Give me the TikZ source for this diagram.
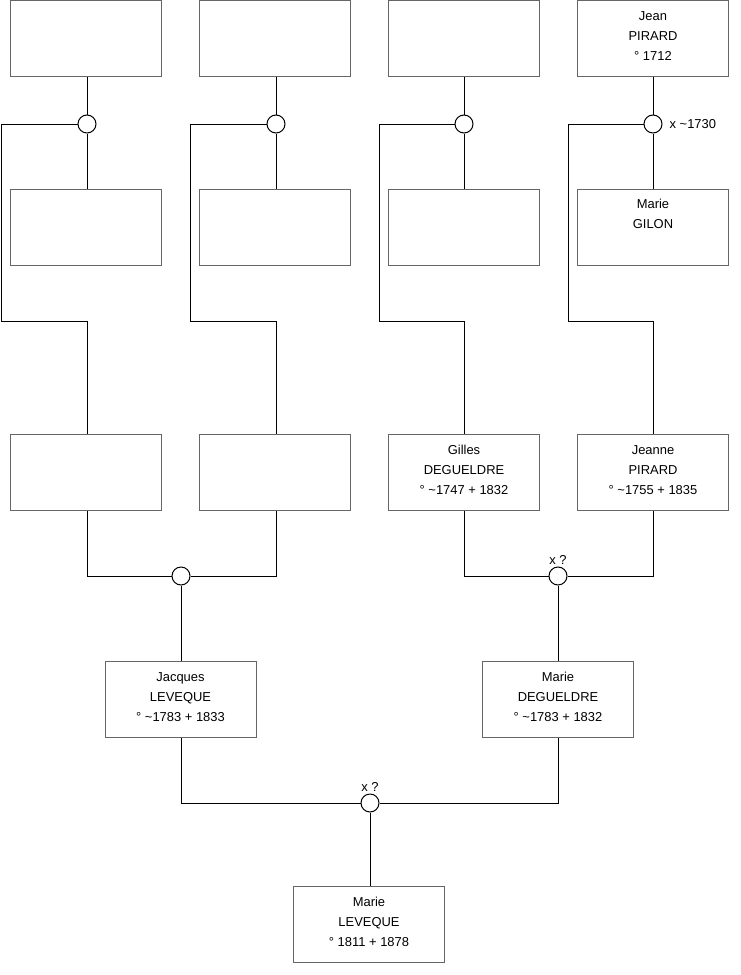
\documentclass[tikz,border=0pt]{standalone}
\usepackage{fontspec}
\setmainfont{Liberation Sans}
\usetikzlibrary{positioning}

\begin{document}
\begin{tikzpicture}[x=0.75pt,y=-0.75pt,line width=0.75pt,
  box/.style={draw=black!60,fill=white,minimum width=113.25pt,minimum height=57pt,
    align=center,inner sep=0pt,font=\fontsize{9.7}{15}\selectfont,
    execute at end node={\rule[-3.5pt]{0pt}{0pt}}},
  knot/.style={draw,circle,fill=white,minimum size=13.5pt,inner sep=0pt},
  note/.style={font=\fontsize{9.7}{11}\selectfont,inner sep=1pt}]
\useasboundingbox (0,0) rectangle (740,975);
\node[box] (f1) at (85.5,38.5) {};
\node[box] (f2) at (275,38.5) {};
\node[box] (f3) at (464,38.5) {};
\node[box] (f4) at (653,38.5) {Jean\\PIRARD\\° 1712};
\node[box] (w1) at (85.5,227) {};
\node[box] (w2) at (275,227) {};
\node[box] (w3) at (464,227) {};
\node[box] (w4) at (653,227) {Marie\\GILON\\\strut};
\node[knot] (m1) at (87,124) {};
\node[knot] (m2) at (276,124) {};
\node[knot] (m3) at (464,124) {};
\node[knot,label={[note,xshift=4pt]right:x \textasciitilde1730}] (m4) at (653,124) {};
\node[box] (g1) at (85.5,472.5) {};
\node[box] (g2) at (275,472.5) {};
\node[box] (g3) at (464,472.5) {Gilles\\DEGUELDRE\\° \textasciitilde1747 + 1832};
\node[box] (g4) at (653,472.5) {Jeanne\\PIRARD\\° \textasciitilde1755 + 1835};
\node[knot] (n1) at (181,576) {};
\node[knot,label={[note]above:x ?}] (n2) at (558,576) {};
\node[box] (p1) at (180.5,699) {Jacques\\LEVEQUE\\° \textasciitilde1783 + 1833};
\node[box] (p2) at (558,699) {Marie\\DEGUELDRE\\° \textasciitilde1783 + 1832};
\node[knot,label={[note]above:x ?}] (r) at (370,803) {};
\node[box] (c) at (369,924.5) {Marie\\LEVEQUE\\° 1811 + 1878};
\coordinate (k1) at (1,321);
\coordinate (k2) at (190,321);
\coordinate (k3) at (379,321);
\coordinate (k4) at (568,321);
\draw (f1.south -| m1) -- (m1.north);
\draw (f2.south -| m2) -- (m2.north);
\draw (f3.south -| m3) -- (m3.north);
\draw (f4.south -| m4) -- (m4.north);
\draw (m1.south) -- (w1.north -| m1);
\draw (m2.south) -- (w2.north -| m2);
\draw (m3.south) -- (w3.north -| m3);
\draw (m4.south) -- (w4.north -| m4);
\draw (m1.west) -| (k1) -| (g1.north -| m1);
\draw (m2.west) -| (k2) -| (g2.north -| m2);
\draw (m3.west) -| (k3) -| (g3.north -| m3);
\draw (m4.west) -| (k4) -| (g4.north -| m4);
\draw (g1.south -| m1) |- (n1.west);
\draw (n1.east) -| (g2.south -| m2);
\draw (g3.south -| m3) |- (n2.west);
\draw (n2.east) -| (g4.south -| m4);
\draw (n1.south) -- (p1.north -| n1);
\draw (n2.south) -- (p2.north);
\draw (p1.south -| n1) |- (r.west);
\draw (r.east) -| (p2.south);
\draw (r.south) -- (c.north -| r);
\end{tikzpicture}
\end{document}
